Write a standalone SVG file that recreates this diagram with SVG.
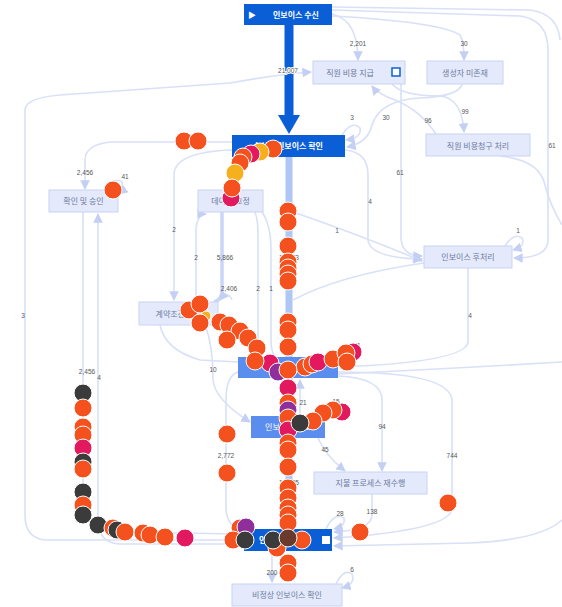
<svg xmlns="http://www.w3.org/2000/svg" width="562" height="607" viewBox="0 0 562 607">
<defs>
<marker id="ah" viewBox="0 0 10 10" refX="9" refY="5" markerWidth="6" markerHeight="6" orient="auto-start-reverse"><path d="M0,0 L10,5 L0,10 z" fill="#c3cff3"/></marker>
<style>
.e{fill:none;stroke:#d9e0f8;stroke-width:1.6}
.ea{fill:none;stroke:#d9e0f8;stroke-width:1.6;marker-end:url(#ah)}
.lbl{font-family:"Liberation Sans","Noto Sans CJK KR",sans-serif;font-size:6.5px;fill:#555;text-anchor:middle}
.nl rect{fill:#e4eafc;stroke:#c9d4f4;stroke-width:1}
.nl text{font-family:"Noto Sans CJK KR",sans-serif;font-size:8px;fill:#6d7ba0;text-anchor:middle}
.nd rect{fill:#0b5fd6}
.nd text{font-family:"Noto Sans CJK KR",sans-serif;font-size:8px;fill:#ffffff;text-anchor:middle;font-weight:bold}
.nm rect{fill:#5b8def}
.nm text{font-family:"Noto Sans CJK KR",sans-serif;font-size:8px;fill:#ffffff;text-anchor:middle}
.o{fill:#f4511e;stroke:#fff;stroke-width:1}
.k{fill:#3b3b3b;stroke:#fff;stroke-width:1}
.c{fill:#e2195f;stroke:#fff;stroke-width:1}
.p{fill:#8e2f9c;stroke:#fff;stroke-width:1}
.g{fill:#f6b01e;stroke:#fff;stroke-width:1}
.b{fill:#6b3a2c;stroke:#fff;stroke-width:1}
</style>
</defs>
<rect width="562" height="607" fill="#ffffff"/>
<g id="connectors">
<!-- thick main flows -->
<path d="M289,157 L289,529" stroke="#aec7f6" stroke-width="7" fill="none"/>
<path d="M222,212 L222,290 Q222,300 214,302" stroke="#c9d6f7" stroke-width="3.5" fill="none"/>
<!-- from 인보이스 수신 -->
<path class="ea" d="M332,14 Q358,20 358,60"/>
<path class="ea" d="M332,16 Q440,22 460,35 Q464,42 464,60"/>
<path class="ea" d="M332,10 L520,16 Q548,20 548,50 L548,240 Q548,258 514,258"/>
<path class="e" d="M332,7 L530,10 Q558,14 560,40"/>
<!-- 직원 비용 지급 left loop to final node -->
<path class="ea" d="M244,540 L45,540 Q25,538 25,515 L25,110 Q25,98 60,95 L230,83 Q280,74 311,72"/>
<!-- 생성자 -> 확인 -->
<path class="ea" d="M462,84 Q460,96 420,98 Q380,100 372,125 Q368,143 347,147"/>
<path class="ea" d="M342,135 Q352,120 360,128 Q362,138 346,140"/>
<!-- 직원비용지급 <-> 직원비용청구 -->
<path class="ea" d="M436,134 Q420,110 395,100 Q378,94 372,86"/>
<path class="ea" d="M392,84 Q402,96 440,96 Q462,98 464,132"/>
<!-- 직원비용청구 out right -->
<path class="e" d="M500,156 Q540,160 545,185 Q550,205 562,225"/>
<!-- 61 -->
<path class="ea" d="M401,84 L401,238 Q402,256 422,256"/>
<!-- 4 from 확인 -->
<path class="ea" d="M345,150 Q368,152 368,175 L368,240 Q370,258 422,259"/>
<!-- 1 diag -->
<path class="ea" d="M293,212 Q360,235 422,261"/>
<path class="e" d="M293,300 Q340,275 424,263"/>
<path class="ea" d="M505,246 Q514,232 522,238 Q526,246 513,250"/>
<!-- 4 down from 후처리 -->
<path class="ea" d="M468,268 L468,342 Q466,362 340,367"/>
<path class="e" d="M338,374 Q460,368 562,362"/>
<!-- 2,456 to 확인 및 승인 -->
<path class="ea" d="M232,142 L110,142 Q85,145 85,160 L85,189"/>
<path class="ea" d="M104,190 Q114,176 122,182 Q124,190 119,194"/>
<!-- from 확인 및 승인 down -->
<path class="ea" d="M83,212 L83,505 Q84,528 110,532 L242,534"/>
<path class="ea" d="M244,544 L120,544 Q98,543 98,520 L98,214"/>
<!-- 2 to 계약조 -->
<path class="ea" d="M232,150 Q174,152 174,175 L174,300"/>
<path class="ea" d="M196,302 L196,228 Q198,214 206,214"/>
<path class="ea" d="M255,212 Q258,220 258,235 L258,355"/>
<path class="e" d="M262,212 Q271,225 271,250 L271,340 Q271,352 275,356"/>
<path class="ea" d="M232,300 Q228,290 220,300"/>
<!-- 10 -->
<path class="ea" d="M205,325 Q213,345 213,380 Q215,400 250,422"/>
<path class="e" d="M160,325 Q165,350 200,360 L238,362"/>
<!-- 2,772 -->
<path class="ea" d="M238,372 Q226,376 226,400 L226,510 Q228,528 244,531"/>
<!-- 21 -->
<path class="ea" d="M300,416 L300,380"/>
<!-- 94 -->
<path class="ea" d="M338,376 Q382,378 382,400 L382,471"/>
<!-- 45 -->
<path class="ea" d="M318,438 Q325,455 345,471"/>
<!-- 744 -->
<path class="ea" d="M338,372 Q450,372 452,400 L452,508 Q452,530 334,538"/>
<!-- 138 -->
<path class="ea" d="M372,494 L372,515 Q372,530 334,532"/>
<!-- 28 -->
<path class="ea" d="M326,529 Q334,512 344,518 Q346,526 334,529"/>
<!-- from right edge to final -->
<path class="ea" d="M562,520 Q540,540 470,543 L334,546"/>
<!-- 200 -->
<path class="ea" d="M272,551 L272,582"/>
<!-- 6 -->
<path class="ea" d="M336,584 Q344,568 352,574 Q356,584 342,588"/>
<!-- main thick arrow -->
<rect x="284.5" y="25" width="9" height="92" fill="#0b5fd6"/>
<polygon points="278,115 300,115 289,134" fill="#0b5fd6"/>
</g>
<g id="labels">
<text class="lbl" x="288" y="73" style="paint-order:stroke;stroke:#fff;stroke-width:2">21,007</text>
<text class="lbl" x="358" y="46">2,201</text>
<text class="lbl" x="464" y="46">30</text>
<text class="lbl" x="352" y="120">3</text>
<text class="lbl" x="386" y="120">30</text>
<text class="lbl" x="428" y="123">96</text>
<text class="lbl" x="465" y="114">99</text>
<text class="lbl" x="552" y="148">61</text>
<text class="lbl" x="400" y="175">61</text>
<text class="lbl" x="370" y="204">4</text>
<text class="lbl" x="337" y="233">1</text>
<text class="lbl" x="518" y="233">1</text>
<text class="lbl" x="470" y="318">4</text>
<text class="lbl" x="85" y="175">2,456</text>
<text class="lbl" x="125" y="179">41</text>
<text class="lbl" x="174" y="232">2</text>
<text class="lbl" x="196" y="260">2</text>
<text class="lbl" x="225" y="260">5,866</text>
<text class="lbl" x="229" y="291">2,406</text>
<text class="lbl" x="258" y="291">2</text>
<text class="lbl" x="271" y="291">1</text>
<text class="lbl" x="289" y="260">17,473</text>
<text class="lbl" x="23" y="318">3</text>
<text class="lbl" x="213" y="372">10</text>
<text class="lbl" x="87" y="374">2,456</text>
<text class="lbl" x="99" y="380">4</text>
<text class="lbl" x="303" y="405">21</text>
<text class="lbl" x="357" y="348">21</text>
<text class="lbl" x="336" y="404">15</text>
<text class="lbl" x="382" y="429">94</text>
<text class="lbl" x="325" y="452">45</text>
<text class="lbl" x="226" y="458">2,772</text>
<text class="lbl" x="452" y="458">744</text>
<text class="lbl" x="289" y="485">17,405</text>
<text class="lbl" x="340" y="516">28</text>
<text class="lbl" x="372" y="514">138</text>
<text class="lbl" x="272" y="575">200</text>
<text class="lbl" x="352" y="572">6</text>
</g>
<g id="n-receive" class="nd"><rect x="244" y="4" width="88" height="21"/><text x="252" y="17.5" font-size="7">▶</text><text x="296" y="17.5">인보이스 수신</text></g>
<g id="n-pay-staff" class="nl"><rect x="313" y="61" width="92" height="23"/><text x="350" y="75.5">직원 비용 지급</text><rect x="392" y="68" width="8" height="8" style="fill:#fff;stroke:#0b5fd6;stroke-width:1.5"/></g>
<g id="n-creator" class="nl"><rect x="427" y="61" width="76" height="23"/><text x="465" y="75.5">생성자 미존재</text></g>
<g id="n-check" class="nd"><rect x="232" y="135" width="113" height="22"/><text x="288" y="149">수신된 인보이스 확인</text></g>
<g id="n-claim" class="nl"><rect x="426" y="134" width="104" height="22"/><text x="478" y="148.5">직원 비용청구 처리</text></g>
<g id="n-approve" class="nl"><rect x="49" y="190" width="69" height="22"/><text x="83.5" y="204">확인 및 승인</text></g>
<g id="n-fix" class="nl"><rect x="198" y="190" width="65" height="22"/><text x="230.5" y="204">데이터 교정</text></g>
<g id="n-post" class="nl"><rect x="424" y="246" width="88" height="22"/><text x="468" y="260">인보이스 후처리</text></g>
<g id="n-contract" class="nl"><rect x="139" y="302" width="79" height="23"/><text x="178.5" y="316.5">계약조건 확인</text></g>
<g id="n-center" class="nm"><rect x="238" y="357" width="100" height="21"/><text x="288" y="370.5">인보이스 승인</text></g>
<g id="n-review" class="nm"><rect x="251" y="416" width="74" height="22"/><text x="288" y="430">인보이스 검토</text></g>
<g id="n-redo" class="nl"><rect x="314" y="472" width="113" height="22"/><text x="370.5" y="486">지불 프로세스 재수행</text></g>
<g id="n-final" class="nd"><rect x="244" y="529" width="88" height="22"/><text x="282" y="543">인보이스 지불</text><rect x="322" y="536" width="8" height="8" style="fill:#fff"/></g>
<g id="n-abnormal" class="nl"><rect x="232" y="584" width="110" height="22"/><text x="287" y="598">비정상 인보이스 확인</text></g>
<g id="tokens">
<circle class="o" cx="184" cy="141" r="9"/><circle class="o" cx="198" cy="141" r="9"/>
<circle class="o" cx="113" cy="190" r="9"/>
<circle class="o" cx="273" cy="149" r="9"/><circle class="g" cx="260" cy="152" r="9"/><circle class="c" cx="251" cy="154" r="9"/><circle class="o" cx="243" cy="157" r="9"/><circle class="o" cx="240" cy="163" r="9"/><circle class="g" cx="235" cy="173" r="9"/><circle class="c" cx="231" cy="198" r="9"/><circle class="o" cx="232" cy="188" r="9"/>
<circle class="o" cx="288" cy="211" r="9"/><circle class="o" cx="288" cy="222" r="9"/><circle class="o" cx="288" cy="246" r="9"/>
<circle class="o" cx="288" cy="262" r="9"/><circle class="o" cx="288" cy="268" r="9"/><circle class="o" cx="288" cy="274" r="9"/><circle class="o" cx="288" cy="281" r="9"/>
<circle class="o" cx="288" cy="322" r="9"/><circle class="o" cx="288" cy="330" r="9"/><circle class="o" cx="288" cy="347" r="9"/>
<circle class="o" cx="189" cy="310" r="9"/><circle class="o" cx="200" cy="304" r="9"/><circle class="g" cx="206" cy="316" r="5"/><circle class="o" cx="200" cy="323" r="9"/><circle class="o" cx="220" cy="322" r="9"/><circle class="o" cx="229" cy="325" r="9"/><circle class="o" cx="240" cy="331" r="9"/><circle class="o" cx="248" cy="338" r="9"/><circle class="o" cx="227" cy="340" r="9"/><circle class="o" cx="257" cy="348" r="9"/>
<circle class="c" cx="270" cy="363" r="9"/><circle class="o" cx="255" cy="361" r="9"/><circle class="p" cx="278" cy="372" r="9"/>
<circle class="o" cx="305" cy="367" r="9"/><circle class="o" cx="312" cy="364" r="9"/><circle class="c" cx="318" cy="362" r="9"/><circle class="o" cx="333" cy="359" r="9"/><circle class="c" cx="353" cy="352" r="9"/><circle class="o" cx="346" cy="353" r="9"/><circle class="o" cx="347" cy="362" r="9"/>
<circle class="o" cx="288" cy="370" r="9"/><circle class="c" cx="288" cy="388" r="9"/><circle class="o" cx="288" cy="403" r="9"/><circle class="p" cx="288" cy="410" r="9"/><circle class="o" cx="288" cy="418" r="9"/><circle class="c" cx="288" cy="430" r="9"/><circle class="o" cx="288" cy="443" r="9"/>
<circle class="c" cx="342" cy="412" r="9"/><circle class="o" cx="333" cy="410" r="9"/><circle class="o" cx="323" cy="413" r="9"/><circle class="o" cx="313" cy="421" r="9"/><circle class="k" cx="300" cy="423" r="9"/>
<circle class="o" cx="227" cy="434" r="9"/><circle class="o" cx="227" cy="473" r="9"/><circle class="o" cx="448" cy="503" r="9"/><circle class="o" cx="360" cy="532" r="9"/>
<circle class="o" cx="288" cy="450" r="9"/><circle class="o" cx="288" cy="467" r="9"/><circle class="o" cx="288" cy="488" r="9"/><circle class="o" cx="288" cy="498" r="9"/><circle class="o" cx="288" cy="508" r="9"/><circle class="o" cx="288" cy="515" r="9"/><circle class="o" cx="288" cy="523" r="9"/>
<circle class="o" cx="240" cy="528" r="9"/><circle class="p" cx="246" cy="527" r="9"/><circle class="o" cx="233" cy="540" r="9"/><circle class="k" cx="245" cy="540" r="9"/><circle class="o" cx="277" cy="548" r="9"/><circle class="k" cx="273" cy="540" r="9"/><circle class="o" cx="302" cy="540" r="9"/><circle class="b" cx="288" cy="538" r="9"/>
<circle class="o" cx="288" cy="563" r="9"/><circle class="o" cx="288" cy="573" r="9"/><circle class="c" cx="185" cy="538" r="9"/>
<circle class="k" cx="83" cy="393" r="9"/><circle class="o" cx="83" cy="408" r="9"/><circle class="o" cx="83" cy="427" r="9"/><circle class="o" cx="83" cy="435" r="9"/><circle class="c" cx="83" cy="448" r="9"/><circle class="k" cx="83" cy="462" r="9"/><circle class="o" cx="83" cy="469" r="9"/><circle class="k" cx="83" cy="492" r="9"/><circle class="o" cx="83" cy="505" r="9"/><circle class="k" cx="83" cy="515" r="9"/>
<circle class="k" cx="98" cy="525" r="9"/><circle class="o" cx="113" cy="528" r="9"/><circle class="k" cx="117" cy="530" r="9"/><circle class="o" cx="125" cy="532" r="9"/><circle class="o" cx="143" cy="533" r="9"/><circle class="o" cx="150" cy="535" r="9"/><circle class="o" cx="165" cy="537" r="9"/>
</g>
</svg>
